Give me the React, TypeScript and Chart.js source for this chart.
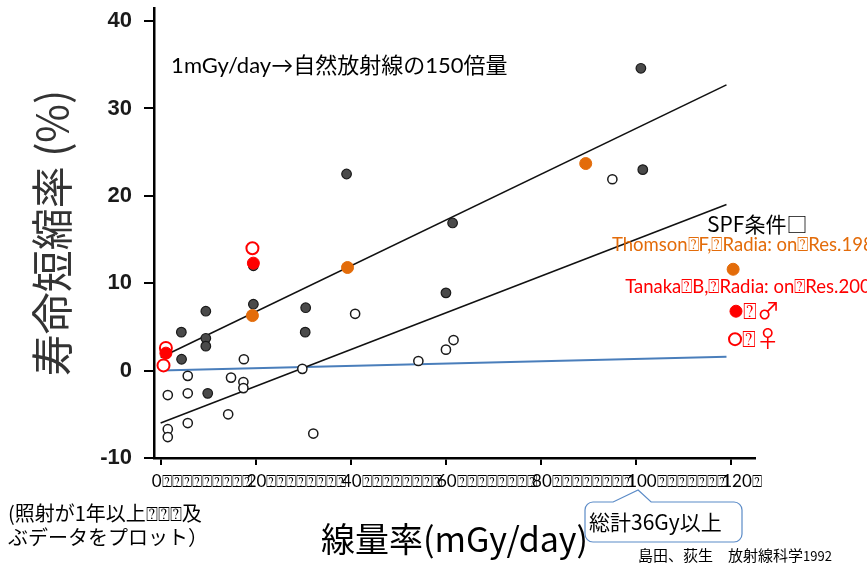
import React, { useEffect, useRef } from "react";
import { Chart, registerables } from "chart.js";

Chart.register(...registerables);

// ---- tick values ----
const xTickValues = [0, 20, 40, 60, 80, 100, 120];
const yTickValues = [-10, 0, 10, 20, 30, 40];
// garbled (tofu) characters that follow each x tick label in the original slide
const xTickTofuCounts = [9, 8, 8, 8, 8, 7, 1];
const tofu = "\u2370";

// ---- data (dose rate mGy/day, life shortening %) ----
const darkX = [4.35, 4.4, 9.5, 9.5, 9.5, 9.9, 19.5, 19.5, 30.5, 30.4, 39.1, 60.0, 61.4, 101.0, 101.4];
const darkY = [4.4, 1.3, 6.8, 3.7, 2.8, -2.6, 7.6, 12.0, 7.2, 4.4, 22.5, 8.9, 16.9, 34.6, 23.0];

const openX = [40.9, 17.5, 5.7, 14.8, 17.4, 17.4, 1.5, 5.7, 14.2, 5.7, 1.5, 1.5, 29.8, 32.1, 54.2, 60.0, 61.6, 95.0];
const openY = [6.5, 1.3, -0.6, -0.8, -1.3, -2.0, -2.8, -2.6, -5.0, -6.0, -6.7, -7.6, 0.2, -7.2, 1.1, 2.4, 3.5, 21.9];

const thomsonX = [19.3, 39.3, 89.4];
const thomsonY = [6.3, 11.8, 23.7];

const tanakaMaleX = [1.1, 19.5];
const tanakaMaleY = [2.0, 12.3];
const tanakaFemaleX = [1.1, 0.6, 19.3];
const tanakaFemaleY = [2.6, 0.6, 14.0];

// legend markers
const legendThomsonX = [120.4];
const legendThomsonY = [11.6];
const legendMaleX = [121.0];
const legendMaleY = [6.8];
const legendFemaleX = [120.8];
const legendFemaleY = [3.6];

// regression lines
const fitX = [0, 119];
const upperFitY = [1.5, 32.7];
const lowerFitY = [-6.0, 19.0];
const tanakaFitY = [0, 1.6];

const pts = (xs: number[], ys: number[]) => xs.map((x, i) => ({ x, y: ys[i] }));

const ORANGE = "#E36C0A";
const RED = "#FF0000";
const CJK = "'Noto Sans CJK JP'";
const LATIN = "Lato, 'Noto Sans CJK JP', 'DejaVu Sans'";

const notesPlugin = {
  id: "notes",
  afterDraw(chart: any) {
    const { ctx } = chart;
    const xs = chart.scales.x;
    const ys = chart.scales.y;
    const X = (v: number) => xs.getPixelForValue(v);
    const Y = (v: number) => ys.getPixelForValue(v);
    const text = (s: string, px: number, py: number, font: string, color: string) => {
      ctx.font = font;
      ctx.fillStyle = color;
      ctx.textAlign = "left";
      ctx.textBaseline = "middle";
      ctx.fillText(s, px, py);
    };
    ctx.save();
    text("1mGy/day\u2192自然放射線の150倍量", X(2.2), Y(34.9), `22px ${LATIN}`, "#000");
    text("SPF条件\u25A1", X(114.9), Y(16.8), `21px ${CJK}`, "#000");
    text(`Thomson${tofu}F,${tofu}Radia: on${tofu}Res.1985`, X(94.9), Y(14.4), `18.5px ${LATIN}`, ORANGE);
    text(`Tanaka${tofu}B,${tofu}Radia: on${tofu}Res.2007`, X(97.7), Y(9.6), `18.5px ${LATIN}`, RED);
    text(`${tofu}\u2642`, X(122.5), Y(6.8), `23px ${LATIN}`, RED);
    text(`${tofu}\u2640`, X(122.3), Y(3.6), `23px ${LATIN}`, RED);

    // notes under the axis
    text(`(照射が1年以上${tofu}${tofu}${tofu}及`, 8, 513, `20px ${CJK}`, "#000");
    text("ぶデータをプロット）", 8, 537, `20px ${CJK}`, "#000");

    // callout
    const l = 585, r = 742, t = 502, b = 542, rad = 8;
    const tipX = X(100) + 2;
    ctx.beginPath();
    ctx.moveTo(l + rad, t);
    ctx.lineTo(tipX - 25, t);
    ctx.lineTo(tipX, 490);
    ctx.lineTo(tipX + 13, t);
    ctx.lineTo(r - rad, t);
    ctx.arcTo(r, t, r, t + rad, rad);
    ctx.lineTo(r, b - rad);
    ctx.arcTo(r, b, r - rad, b, rad);
    ctx.lineTo(l + rad, b);
    ctx.arcTo(l, b, l, b - rad, rad);
    ctx.lineTo(l, t + rad);
    ctx.arcTo(l, t, l + rad, t, rad);
    ctx.closePath();
    ctx.fillStyle = "#fff";
    ctx.fill();
    ctx.strokeStyle = "#5B8BC7";
    ctx.lineWidth = 1.2;
    ctx.stroke();
    text("総計36Gy以上", 589, 522, `21px ${CJK}`, "#000");

    // citation
    text("島田、荻生\u3000放射線科学", 638, 555, `15px ${CJK}`, "#000");
    ctx.font = `15px ${CJK}`;
    const w = ctx.measureText("島田、荻生\u3000放射線科学").width;
    text("1992", 638 + w, 556, `13px ${CJK}`, "#000");
    ctx.restore();
  },
};

export default function App() {
  const ref = useRef<HTMLCanvasElement>(null);
  useEffect(() => {
    if (!ref.current) return;
    const chart = new Chart(ref.current, {
      type: "scatter",
      data: {
        datasets: [
          { label: "Tanaka male", data: pts(tanakaMaleX, tanakaMaleY), backgroundColor: RED, borderColor: RED, pointRadius: 6, borderWidth: 1, order: 0 },
          { label: "Tanaka female", data: pts(tanakaFemaleX, tanakaFemaleY), backgroundColor: "#fff", borderColor: RED, pointRadius: 6, borderWidth: 2, order: 0 },
          { label: "Thomson", data: pts(thomsonX, thomsonY), backgroundColor: ORANGE, borderColor: ORANGE, pointRadius: 6, borderWidth: 1, order: 1 },
          { label: "legend Thomson", data: pts(legendThomsonX, legendThomsonY), backgroundColor: ORANGE, borderColor: ORANGE, pointRadius: 6, borderWidth: 1, order: 1 },
          { label: "legend male", data: pts(legendMaleX, legendMaleY), backgroundColor: RED, borderColor: RED, pointRadius: 6, borderWidth: 1, order: 1 },
          { label: "legend female", data: pts(legendFemaleX, legendFemaleY), backgroundColor: "#fff", borderColor: RED, pointRadius: 6, borderWidth: 2, order: 1 },
          { label: "irradiated", data: pts(darkX, darkY), backgroundColor: "#4a4a4a", borderColor: "#1a1a1a", pointRadius: 4.8, borderWidth: 1.2, order: 2 },
          { label: "control", data: pts(openX, openY), backgroundColor: "#fff", borderColor: "#1a1a1a", pointRadius: 4.6, borderWidth: 1.5, order: 2 },
          { label: "upper fit", data: pts(fitX, upperFitY), showLine: true, pointRadius: 0, borderColor: "#111", borderWidth: 1.6, order: 5 },
          { label: "lower fit", data: pts(fitX, lowerFitY), showLine: true, pointRadius: 0, borderColor: "#111", borderWidth: 1.6, order: 5 },
          { label: "Tanaka fit", data: pts(fitX, tanakaFitY), showLine: true, pointRadius: 0, borderColor: "#4A7EBB", borderWidth: 2, order: 5 },
        ],
      },
      options: {
        animation: false,
        responsive: false,
        devicePixelRatio: 1,
        layout: { padding: { left: 0, top: 8, right: 112, bottom: 0 } },
        plugins: { legend: { display: false }, tooltip: { enabled: false } },
        scales: {
          x: {
            type: "linear",
            min: -1.4,
            max: 125,
            afterBuildTicks: (axis: any) => { axis.ticks = xTickValues.map((v) => ({ value: v })); },
            afterFit: (s: any) => { s.height = 107; s.paddingLeft = 0; s.paddingRight = 0; },
            ticks: {
              autoSkip: false,
              maxRotation: 0,
              minRotation: 0,
              align: "start",
              labelOffset: -9,
              padding: 6,
              color: "#000",
              font: { family: LATIN, size: 17 },
              callback: (v: any) => {
                const i = xTickValues.indexOf(v);
                return `${v}` + tofu.repeat(i >= 0 ? xTickTofuCounts[i] : 0);
              },
            },
            grid: { display: true, drawOnChartArea: false, drawTicks: true, tickLength: 7, color: "#000", lineWidth: 2 },
            border: { display: true, color: "#000", width: 2.5 },
            title: { display: true, text: "線量率(mGy/day)", color: "#000", font: { family: CJK, size: 34 }, padding: { top: 0, bottom: 6 } },
          },
          y: {
            type: "linear",
            min: -10,
            max: 41.5,
            afterBuildTicks: (axis: any) => { axis.ticks = yTickValues.map((v) => ({ value: v })); },
            afterFit: (s: any) => { s.width = 154; s.paddingTop = 0; s.paddingBottom = 0; },
            ticks: {
              padding: 12,
              color: "#1a1a1a",
              font: { family: "'Liberation Sans', Arial", size: 22, weight: "bold" },
              callback: (v: any) => `${v}`,
            },
            grid: { display: true, drawOnChartArea: false, drawTicks: true, tickLength: 10, color: "#000", lineWidth: 2 },
            border: { display: true, color: "#000", width: 2.5 },
            title: { display: true, text: "寿命短縮率 (%)", color: "#333", font: { family: CJK, size: 42 }, padding: { top: 27, bottom: 0 } },
          },
        },
      },
      plugins: [notesPlugin],
    } as any);
    return () => chart.destroy();
  }, []);
  return (
    <div style={{ position: "absolute", left: 0, top: 0, width: 867, height: 565, background: "#fff" }}>
      <canvas ref={ref} width={867} height={565} />
    </div>
  );
}
